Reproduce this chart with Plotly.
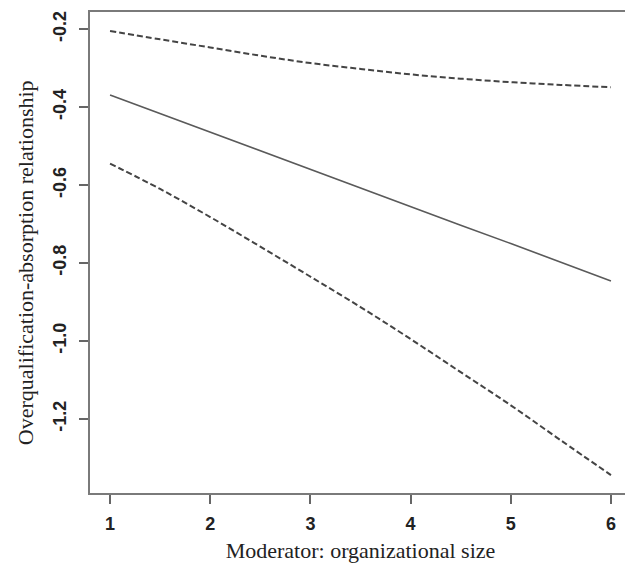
import plotly.graph_objects as go

x_vals = [1, 1.5, 2, 2.5, 3, 3.5, 4, 4.5, 5, 5.5, 6]
estimate = [-0.369, -0.417, -0.465, -0.512, -0.560, -0.608, -0.655, -0.703, -0.750, -0.798, -0.846]
upper_ci = [-0.205, -0.226, -0.247, -0.268, -0.287, -0.302, -0.316, -0.327, -0.336, -0.343, -0.349]
lower_ci = [-0.545, -0.610, -0.682, -0.758, -0.835, -0.913, -0.995, -1.080, -1.165, -1.255, -1.344]

x_ticks = [1, 2, 3, 4, 5, 6]
y_ticks = [-0.2, -0.4, -0.6, -0.8, -1.0, -1.2]
y_tick_labels = ["-0.2", "-0.4", "-0.6", "-0.8", "-1.0", "-1.2"]

x_title = "Moderator: organizational size"
y_title = "Overqualification-absorption relationship"

line_col = "#5a5a5a"
dash_col = "#444444"

fig = go.Figure()
fig.add_trace(go.Scatter(x=x_vals, y=upper_ci, mode="lines", line=dict(color=dash_col, width=2, dash="6px,3px", shape="spline"), showlegend=False))
fig.add_trace(go.Scatter(x=x_vals, y=estimate, mode="lines", line=dict(color=line_col, width=1.6), showlegend=False))
fig.add_trace(go.Scatter(x=x_vals, y=lower_ci, mode="lines", line=dict(color=dash_col, width=2, dash="6px,3px", shape="spline"), showlegend=False))

axis_common = dict(
    showgrid=False, zeroline=False, showline=True, mirror=True,
    linecolor="#7a7a7a", linewidth=1.6, ticks="outside", ticklen=9,
    tickcolor="#666666", tickwidth=1.5,
    tickfont=dict(family="Liberation Sans, Arial, sans-serif", size=18, color="#222222", weight="bold"),
)

title_font = dict(family="Liberation Serif, Times New Roman, serif", size=22, color="#222222")

# the page body adds an 8px offset, so the figure is sized to fit the 633x569 window
fig.update_layout(
    width=625, height=561,
    margin=dict(l=82, r=2, t=4, b=76),
    plot_bgcolor="white", paper_bgcolor="white",
    xaxis=dict(range=[0.8, 6.2], tickvals=x_ticks, ticklabelstandoff=5,
               title=dict(text=x_title, standoff=9, font=title_font),
               automargin=False, **axis_common),
    yaxis=dict(range=[-1.39, -0.156], tickvals=y_ticks, ticktext=y_tick_labels, tickangle=-90, ticklabelstandoff=6,
               automargin=False, **axis_common),
    annotations=[dict(text=y_title, textangle=-90, xref="paper", yref="paper",
                      x=-0.12, y=0.478, xanchor="center", yanchor="middle",
                      showarrow=False, font=title_font)],
)

fig.write_html("out.html")
